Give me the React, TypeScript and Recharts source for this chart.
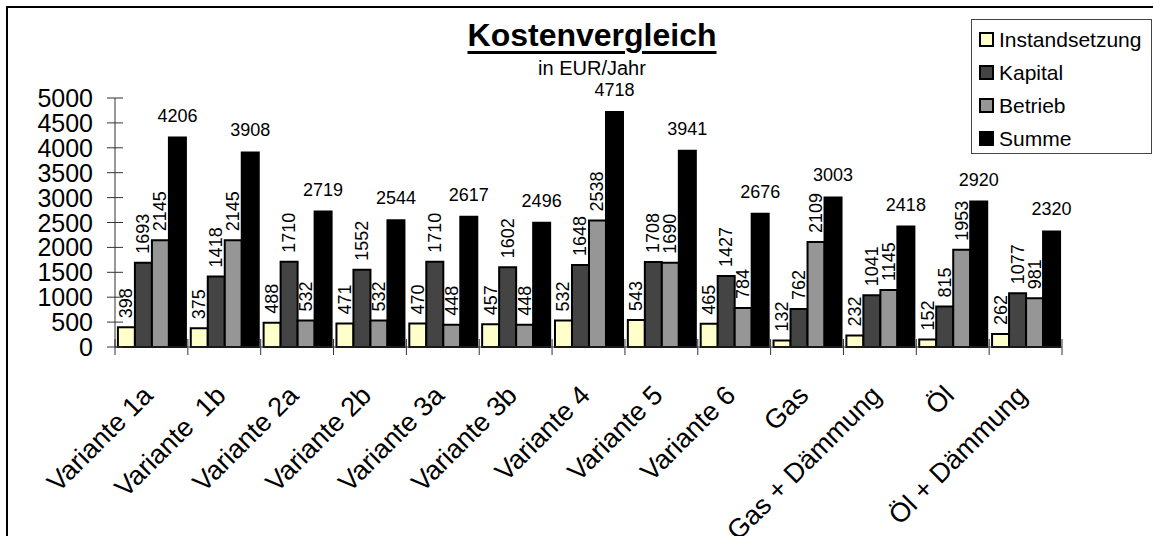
import { BarChart, Bar, XAxis, YAxis, LabelList } from 'recharts'

const categories = [
  'Variante 1a',
  'Variante  1b',
  'Variante 2a',
  'Variante 2b',
  'Variante 3a',
  'Variante 3b',
  'Variante 4',
  'Variante 5',
  'Variante 6',
  'Gas',
  'Gas + Dämmung',
  'Öl',
  'Öl + Dämmung',
]

const instandsetzung = [398, 375, 488, 471, 470, 457, 532, 543, 465, 132, 232, 152, 262]
const kapital = [1693, 1418, 1710, 1552, 1710, 1602, 1648, 1708, 1427, 762, 1041, 815, 1077]
const betrieb = [2145, 2145, 532, 532, 448, 448, 2538, 1690, 784, 2109, 1145, 1953, 981]
const summe = [4206, 3908, 2719, 2544, 2617, 2496, 4718, 3941, 2676, 3003, 2418, 2920, 2320]

const seriesNames = ['Instandsetzung', 'Kapital', 'Betrieb', 'Summe']
const yTicks = [0, 500, 1000, 1500, 2000, 2500, 3000, 3500, 4000, 4500, 5000]

const COLORS = ['#FFFFCC', '#444444', '#969696', '#000000']
const FONT = '"Liberation Sans", Arial, sans-serif'

const data = categories.map((name, i) => ({
  name,
  Instandsetzung: instandsetzung[i],
  Kapital: kapital[i],
  Betrieb: betrieb[i],
  Summe: summe[i],
}))

function VerticalLabel(props: any) {
  const { x, y, width, value } = props
  const cx = x + width / 2
  const ty = y - 9
  return (
    <text
      x={cx}
      y={ty}
      transform={`rotate(-90 ${cx} ${ty})`}
      textAnchor="start"
      dominantBaseline="central"
      fontSize={18}
      fontFamily={FONT}
      fill="#000"
    >
      {value}
    </text>
  )
}

function TopLabel(props: any) {
  const { x, y, width, value } = props
  return (
    <text x={x + width / 2} y={y - 16} textAnchor="middle" fontSize={18} fontFamily={FONT} fill="#000">
      {value}
    </text>
  )
}

function YTick(props: any) {
  const { x, y, payload } = props
  return (
    <g>
      <line x1={x - 8} x2={x + 8} y1={y} y2={y} stroke="#333" strokeWidth={1} />
      <text x={x - 22} y={y} textAnchor="end" dominantBaseline="central" fontSize={25} fontFamily={FONT} fill="#000">
        {payload.value}
      </text>
    </g>
  )
}

function XTick(props: any) {
  const { x, y, payload, index } = props
  const off = payload.offset ?? 36.4
  return (
    <g>
      <line x1={x - off} x2={x - off} y1={y - 8} y2={y + 8} stroke="#333" strokeWidth={1} />
      {index === categories.length - 1 && (
        <line x1={x + off} x2={x + off} y1={y - 8} y2={y + 8} stroke="#333" strokeWidth={1} />
      )}
      <text
        transform={`translate(${x + 3},${y + 50}) rotate(-45)`}
        textAnchor="end"
        fontSize={27}
        fontFamily={FONT}
        fill="#000"
        style={{ whiteSpace: 'pre' }}
      >
        {payload.value}
      </text>
    </g>
  )
}

export default function App() {
  return (
    <div
      style={{
        position: 'absolute',
        left: 0,
        top: 0,
        width: 1153,
        height: 536,
        overflow: 'hidden',
        background: '#fff',
        fontFamily: FONT,
      }}
    >
      <div
        style={{
          position: 'absolute',
          left: 6,
          top: 6,
          width: 1200,
          height: 600,
          border: '2px solid #000',
        }}
      />
      <div
        style={{
          position: 'absolute',
          left: 392,
          top: 19,
          width: 400,
          textAlign: 'center',
          fontSize: 32,
          lineHeight: '32px',
          fontWeight: 'bold',
          textDecoration: 'underline',
          textDecorationThickness: 3,
          textUnderlineOffset: 5,
        }}
      >
        Kostenvergleich
      </div>
      <div
        style={{
          position: 'absolute',
          left: 392,
          top: 58,
          width: 400,
          textAlign: 'center',
          fontSize: 20,
          lineHeight: '20px',
        }}
      >
        in EUR/Jahr
      </div>

      <div style={{ position: 'absolute', left: 0, top: 0 }}>
        <BarChart
          width={1153}
          height={536}
          data={data}
          margin={{ top: 98, right: 91, bottom: 89, left: 0 }}
          barCategoryGap="4%"
          barGap={0}
        >
          <XAxis
            dataKey="name"
            height={100}
            interval={0}
            tickSize={0}
            tickMargin={0}
            tickLine={false}
            axisLine={{ stroke: '#333', strokeWidth: 1 }}
            tick={<XTick />}
          />
          <YAxis
            width={115}
            domain={[0, 5000]}
            ticks={yTicks}
            interval={0}
            tickSize={0}
            tickMargin={0}
            tickLine={false}
            axisLine={{ stroke: '#333', strokeWidth: 1 }}
            tick={<YTick />}
          />
          {seriesNames.map((s, i) => (
            <Bar key={s} dataKey={s} fill={COLORS[i]} stroke="#000" strokeWidth={2} isAnimationActive={false}>
              <LabelList dataKey={s} content={i === 3 ? <TopLabel /> : <VerticalLabel />} />
            </Bar>
          ))}
        </BarChart>
      </div>

      <div
        style={{
          position: 'absolute',
          left: 971,
          top: 19,
          width: 181,
          height: 135,
          border: '1px solid #444',
          boxSizing: 'border-box',
          paddingTop: 3,
        }}
      >
        {seriesNames.map((s, i) => (
          <div key={s} style={{ display: 'flex', alignItems: 'center', height: 33, paddingLeft: 7 }}>
            <span
              style={{
                width: 15,
                height: 15,
                boxSizing: 'border-box',
                border: '2px solid #000',
                background: COLORS[i],
                marginRight: 5,
              }}
            />
            <span style={{ fontSize: 21, lineHeight: '21px' }}>{s}</span>
          </div>
        ))}
      </div>
    </div>
  )
}
